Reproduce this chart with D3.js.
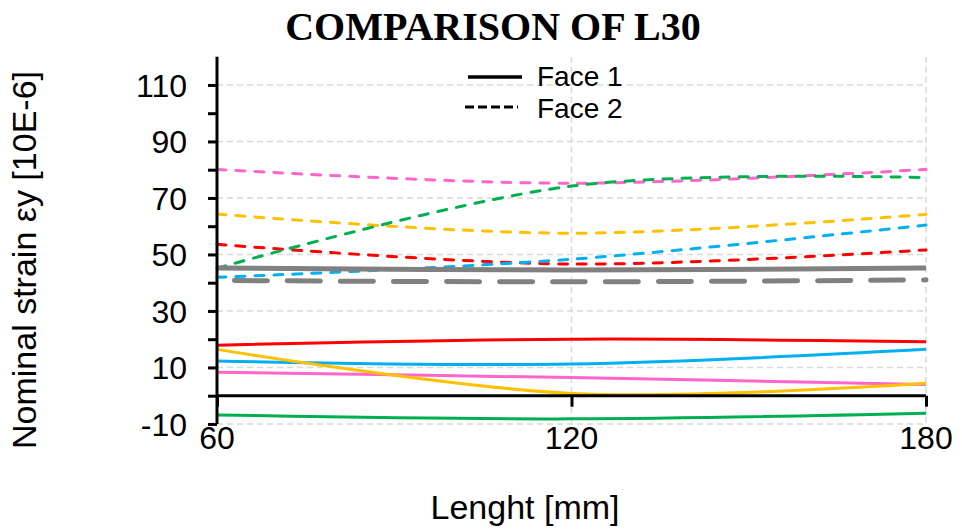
<!DOCTYPE html>
<html>
<head>
<meta charset="utf-8">
<script src="https://cdn.jsdelivr.net/npm/d3@7"></script>
<style>
  html, body { margin: 0; padding: 0; background: #fff; }
  svg { display: block; }
</style>
</head>
<body>
<svg id="chart" width="962" height="530"></svg>
<script>
// ---- data ----
const lengths = [60, 120, 180];
const xTicks = [60, 120, 180];
const yTickLabels = [-10, 10, 30, 50, 70, 90, 110];
const yMinorTicks = [-10, 0, 10, 20, 30, 40, 50, 60, 70, 80, 90, 100, 110];
const legendLabels = ["Face 1", "Face 2"];

const face1Red    = [17.9, 20.0, 19.1];
const face1Blue   = [12.3, 11.2, 16.4];
const face1Yellow = [16.4, 0.8, 4.4];
const face1Pink   = [8.3, 6.4, 4.0];
const face1Green  = [-6.8, -8.2, -6.2];
const face1Gray   = [45.2, 44.5, 45.2];

const face2Red    = [53.6, 46.6, 51.6];
const face2Blue   = [41.9, 48.3, 60.4];
const face2Yellow = [64.3, 57.5, 64.2];
const face2Pink   = [80.1, 75.2, 80.1];
const face2Green  = [45.1, 74.2, 77.2];
const face2Gray   = [40.8, 40.3, 41.0];

// ---- styles ----
const C = { red: "#FF0000", blue: "#00B0F0", yellow: "#FFC000", pink: "#FF66CC", green: "#00B050", gray: "#808080" };
const series = [
  { v: face2Pink,   c: C.pink,   face: 2 },
  { v: face2Yellow, c: C.yellow, face: 2 },
  { v: face2Red,    c: C.red,    face: 2 },
  { v: face2Blue,   c: C.blue,   face: 2 },
  { v: face2Green,  c: C.green,  face: 2 },
  { v: face2Gray,   c: C.gray,   face: 2, thick: true },
  { v: face1Gray,   c: C.gray,   face: 1, thick: true },
  { v: face1Red,    c: C.red,    face: 1 },
  { v: face1Blue,   c: C.blue,   face: 1 },
  { v: face1Pink,   c: C.pink,   face: 1 },
  { v: face1Yellow, c: C.yellow, face: 1 },
  { v: face1Green,  c: C.green,  face: 1 }
];

const svg = d3.select("#chart");
const x0 = 217, x1 = 926;
const x = d3.scaleLinear().domain([60, 180]).range([x0, x1]);
const y = d3.scaleLinear().domain([0, 120]).range([395.7, 56.7]);
const yBottom = y(-10);

const font = "Arial, 'Liberation Sans', sans-serif";

// title
svg.append("text")
  .attr("x", 493).attr("y", 40)
  .attr("text-anchor", "middle")
  .attr("font-family", "'Times New Roman', 'Liberation Serif', serif")
  .attr("font-weight", "bold")
  .attr("font-size", 40)
  .text("COMPARISON OF L30");

// gridlines
const grid = svg.append("g");
yTickLabels.forEach(t => {
  grid.append("line")
    .attr("x1", x0).attr("x2", x1)
    .attr("y1", y(t)).attr("y2", y(t))
    .attr("stroke", "#d9d9d9").attr("stroke-width", 1.5)
    .attr("stroke-dasharray", "6,4");
});
xTicks.filter(t => t !== 60).forEach(t => {
  grid.append("line")
    .attr("x1", x(t)).attr("x2", x(t))
    .attr("y1", y(120)).attr("y2", yBottom)
    .attr("stroke", "#d9d9d9").attr("stroke-width", 1.5)
    .attr("stroke-dasharray", "6,4");
});

// series
const line = d3.line()
  .x((d, i) => x(lengths[i]))
  .y(d => y(d))
  .curve(d3.curveCatmullRom.alpha(0.5));

const sg = svg.append("g");
series.forEach(s => {
  const p = sg.append("path")
    .attr("d", line(s.v))
    .attr("fill", "none")
    .attr("stroke", s.c)
    .attr("stroke-width", s.thick ? 5 : 3);
  if (s.face === 2) {
    p.attr("stroke-linecap", "round");
    if (s.thick) p.attr("stroke-dasharray", "33,20").attr("stroke-dashoffset", 35.5);
    else p.attr("stroke-dasharray", "9,10");
  }
});

// y axis
const yAxis = d3.axisLeft(y)
  .tickValues(yMinorTicks)
  .tickSize(9)
  .tickFormat(d => yTickLabels.includes(d) ? d : "");
const ya = svg.append("g").attr("transform", `translate(${x0},0)`).call(yAxis);
ya.select(".domain").attr("stroke", "#000").attr("stroke-width", 3)
  .attr("d", `M0,${y(120)}V${yBottom}`);
ya.selectAll(".tick line").attr("stroke", "#000").attr("stroke-width", 3);
ya.selectAll(".tick text")
  .attr("font-family", font).attr("font-size", 32).attr("fill", "#000")
  .attr("x", -30).attr("dy", "0.36em");

// x axis at y=0
const xAxis = d3.axisBottom(x).tickValues(xTicks).tickSize(11).tickFormat("");
const xa = svg.append("g").attr("transform", `translate(0,${y(0)})`).call(xAxis);
xa.select(".domain").attr("stroke", "#000").attr("stroke-width", 3)
  .attr("d", `M${x0},0H${x1}`);
xa.selectAll(".tick line").attr("stroke", "#000").attr("stroke-width", 3);
// x tick labels at the bottom
xTicks.forEach(t => {
  svg.append("text")
    .attr("x", x(t)).attr("y", 449)
    .attr("text-anchor", "middle")
    .attr("font-family", font).attr("font-size", 32)
    .text(t);
});

// axis titles
svg.append("text")
  .attr("x", 525).attr("y", 519)
  .attr("text-anchor", "middle")
  .attr("font-family", font).attr("font-size", 34)
  .text("Lenght [mm]");
svg.append("text")
  .attr("transform", "translate(36,260) rotate(-90)")
  .attr("text-anchor", "middle")
  .attr("font-family", font).attr("font-size", 34)
  .text("Nominal strain εy [10E-6]");

// legend
const lg = svg.append("g");
lg.append("line").attr("x1", 468).attr("x2", 522).attr("y1", 77).attr("y2", 77)
  .attr("stroke", "#000").attr("stroke-width", 3.5);
lg.append("line").attr("x1", 465).attr("x2", 518).attr("y1", 107).attr("y2", 107)
  .attr("stroke", "#000").attr("stroke-width", 3).attr("stroke-dasharray", "9,4");
lg.append("text").attr("x", 537).attr("y", 86)
  .attr("font-family", font).attr("font-size", 28).text(legendLabels[0]);
lg.append("text").attr("x", 537).attr("y", 118)
  .attr("font-family", font).attr("font-size", 28).text(legendLabels[1]);
</script>
</body>
</html>
